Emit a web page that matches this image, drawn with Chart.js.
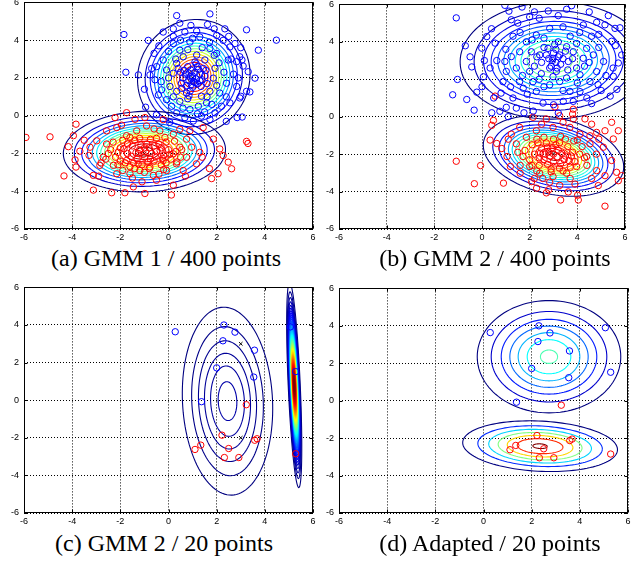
<!DOCTYPE html>
<html>
<head>
<meta charset="utf-8">
<script src="https://cdn.jsdelivr.net/npm/chart.js@4.4.1/dist/chart.umd.min.js"></script>
<style>
  body { margin: 0; width: 644px; height: 565px; overflow: hidden; background: #fff; position: relative; }
  .panel { position: absolute; }
  .cap { position: absolute; width: 320px; text-align: center; font: 24px 'Liberation Serif', 'Times New Roman', serif; line-height: 24px; color: #000; white-space: nowrap; }
</style>
</head>
<body>
<div class="panel" style="left:2px;top:-8px;width:319px;height:251px"><canvas id="pa"></canvas></div>
<div class="panel" style="left:317px;top:-6px;width:316px;height:249px"><canvas id="pb"></canvas></div>
<div class="panel" style="left:2px;top:277px;width:319px;height:250px"><canvas id="pc"></canvas></div>
<div class="panel" style="left:317px;top:278px;width:319px;height:249px"><canvas id="pd"></canvas></div>
<div class="cap" style="left:6px;top:246px">(a) GMM 1 / 400 points</div>
<div class="cap" style="left:335px;top:246px">(b) GMM 2 / 400 points</div>
<div class="cap" style="left:4px;top:531px">(c) GMM 2 / 20 points</div>
<div class="cap" style="left:330px;top:531px">(d) Adapted / 20 points</div>
<script>
// axis ticks (same for all four panels)
const tickValues = [-6, -4, -2, 0, 2, 4, 6];

// (a) GMM 1 / 400 points
const blueA = [
  [0.34,5.3],[1.72,5.39],[0.47,4.9],[0.93,4.78],[1.62,4.83],[2.34,4.6],[3.24,4.55],[-0.22,4.43],[0.2,4.2],[-0.84,3.99],
  [1.17,4.48],[0.68,4.43],[1.3,4.17],[2.0,4.25],[2.27,3.99],[2.76,3.82],[2.55,3.64],[0.89,3.9],[0.47,3.47],[0.2,3.82],
  [1.72,3.56],[2.0,3.3],[2.96,3.12],[2.83,2.86],[3.1,2.63],[2.48,2.95],[3.31,2.33],[3.73,3.47],[3.59,1.99],
  [-0.49,2.6],[-0.22,2.95],[-0.77,2.16],[-0.56,1.9],[-1.25,2.16],[-0.29,1.37],[-0.08,0.85],[0.13,0.5],[-0.42,1.1],
  [0.34,0.15],[0.68,-0.1],[1.03,-0.28],[1.37,-0.02],[1.72,-0.2],[1.93,0.15],[2.2,0.5],[2.55,0.68],[2.96,0.94],
  [3.24,1.29],[2.83,1.55],[2.41,1.72],[2.13,1.2],[1.58,0.68],[1.24,0.5],[0.89,0.33],[0.47,0.76],[0.06,1.55],
  [0.2,2.25],[-0.08,2.42],[0.34,2.77],[0.61,3.12],[1.17,3.21],[1.51,2.95],[1.93,2.51],[1.86,1.99],[1.72,1.29],
  [1.37,1.03],[0.75,1.2],[0.54,1.72],[0.34,1.29],
  [0.7,2.2],[0.85,1.85],[1.0,2.1],[1.15,1.95],[1.3,2.2],[0.95,2.4],[1.2,1.7],[0.75,1.6],[1.05,1.8],[0.9,2.05],
  [1.25,2.45],[1.4,1.9],[0.6,2.0],[1.1,2.3],[0.8,2.6],[1.35,1.55],[1.0,1.5],[0.65,2.4],[1.5,2.1],[1.2,2.6],
  [0.9,1.3],[1.45,2.5],[1.0,2.0],[1.1,1.75],[0.85,2.25],[1.3,1.85],[0.95,1.65],[1.6,1.7],[0.5,2.3],[1.15,2.75],
  [-1.85,4.3],[4.48,4.0],[-1.77,2.3],[-0.95,0.45],[2.85,-0.1],[3.06,-0.07],[3.38,1.26],[3.0,1.03],[-0.5,0.05],
  [0.05,-0.35],[2.4,-0.3],[3.05,2.95],[2.7,2.2],[-0.6,3.3],[1.9,4.6],[0.0,3.4],[1.5,0.2],[2.6,3.0],[0.4,2.5],
  [0.3,3.0],[0.0,2.0],[-0.3,1.8],[0.2,1.0],[0.8,0.9],[1.6,1.0],[2.0,1.6],[2.3,2.3],[2.1,2.8],[1.7,3.9],
  [1.0,4.1],[0.5,4.0],[1.4,3.6],[0.8,3.5],[0.2,4.6],[-0.4,3.7],[2.5,4.2],[3.0,3.6],[2.9,2.0],[0.6,0.4],
  [1.2,0.1],[2.4,1.0],[-0.7,2.5],[-1.0,1.4],[1.9,3.2],[1.1,2.85],[0.55,1.45],[1.55,2.4],[0.85,1.05],[1.8,0.6]
];
const redA = [
  [-5.92,-1.15],[-4.92,-1.12],[-4.34,-3.19],[-4.16,-1.64],[-3.95,-1.06],[-3.84,-0.45],[-3.68,-1.88],[-3.88,-2.34],
  [-3.84,-2.72],[-3.26,-1.67],[-3.12,-3.94],[-3.12,-3.16],[-2.85,-2.63],[-2.36,-4.08],[-1.81,-4.08],[-1.46,-3.77],
  [-0.98,-4.12],[-0.5,-3.42],[0.12,-4.2],[0.2,-3.68],[0.61,-2.9],[1.16,-2.55],[1.3,-1.94],[1.86,-1.24],[2.13,-1.76],
  [2.27,-2.11],[2.48,-2.46],[2.62,-2.81],[2.06,-3.07],[1.79,-3.33],[3.24,-1.36],[3.3,-1.47],[-1.74,0.16],[-2.22,-0.1],
  [-1.39,-0.19],[-0.98,-0.1],[-0.22,-0.21],[0.47,-0.72],[0.89,-0.8],[1.44,-0.63],[-2.15,-0.63],[-2.57,-0.8],
  [-2.98,-1.33],[-2.71,-2.2],[-2.29,-2.63],[-2.15,-3.07],[-1.6,-3.07],[-1.19,-2.9],[-0.63,-3.16],[-0.08,-2.9],
  [0.33,-2.55],[0.75,-2.2],[0.96,-1.67],[0.75,-1.24],[0.2,-0.98],[-0.36,-0.8],[-0.91,-0.54],[-1.32,-0.8],
  [-1.74,-1.06],[-2.57,-1.5],[-2.09,-1.94],[-1.74,-2.37],[-1.26,-2.55],[-0.77,-2.72],[-0.22,-2.37],[0.2,-2.02],[0.47,-1.67],
  [-1.5,-1.6],[-1.2,-1.8],[-0.8,-1.7],[-0.5,-1.9],[-0.2,-2.1],[-1.0,-2.2],[-1.3,-2.3],[-0.6,-2.4],[-1.7,-2.0],
  [-0.9,-1.5],[-0.4,-1.5],[0.0,-1.8],[-1.1,-2.6],[-0.7,-2.0],[-1.4,-1.3],[-2.0,-1.7],[-0.3,-2.6],[-1.8,-2.5],
  [0.1,-2.3],[-1.2,-1.2],[-0.5,-1.2],[-0.95,-1.9],[-1.6,-2.7],[-2.2,-2.2],[-0.1,-1.4],[0.3,-1.9],[-1.9,-1.3],
  [-0.8,-2.8],[-2.4,-1.8],[-1.05,-2.05],[-0.6,-1.6],[-1.35,-1.95],[-0.25,-2.25],[0.5,-2.2],[-2.6,-2.3],[-1.5,-3.3],
  [-0.4,-3.1],[-1.15,-1.55],[-0.75,-2.3],[-1.55,-2.15],[-0.35,-1.85],[-1.0,-1.7],[-0.1,-2.5],[-2.3,-1.4],[-1.9,-2.9],
  [-2.0,-2.4],[-1.7,-1.5],[-1.45,-2.5],[-1.25,-2.0],[-0.85,-2.45],[-0.55,-2.15],[-0.3,-1.7],[0.05,-2.05],[0.35,-2.45],
  [-0.2,-2.85],[-1.0,-3.0],[-1.4,-2.8],[-2.1,-2.6],[-2.5,-2.0],[-1.85,-1.75],[-1.6,-1.15],[-0.75,-1.25],[-0.15,-1.15],
  [0.25,-1.35],[0.55,-1.8],[-2.8,-2.5],[-3.3,-2.1],[-3.5,-1.3],[-2.9,-3.2],[-1.1,-3.5],[0.7,-3.2],[1.4,-2.2],
  [1.7,-2.8],[-0.6,-0.7],[-1.95,-0.5]
];
const meansA = [[1.0, 2.0], [-1.0, -2.0]];
const gmmA = [
  { cx: 1.05, cy: 2.05, rx: 2.33, ry: 3.05, angle: -5, n: 15, peak: 15.5, tTop: 1 },
  { cx: -1.0, cy: -1.9, rx: 3.37, ry: 2.13, angle: 3, n: 15, peak: 15.5, tTop: 1 }
];

// (b) GMM 2 / 400 points
const blueB = [
  [-1.08,5.28],[-0.7,3.79],[-1.03,1.99],[-1.23,1.17],[-0.64,0.92],[-0.33,0.35],[-0.43,2.66],[-0.22,1.31],[0.06,2.13],
  [-0.01,3.66],[0.2,4.28],[0.55,3.93],[0.62,3.0],[0.96,5.95],[1.13,5.64],[1.23,5.18],[1.68,5.86],[2.0,5.33],[2.4,5.26],
  [2.78,5.65],[3.55,5.74],[3.76,5.93],[4.25,4.9],[4.81,5.04],[5.16,4.91],[5.58,4.72],[5.79,4.75],[5.44,4.03],[5.86,3.3],
  [5.72,2.87],[5.51,2.16],[5.66,1.46],[5.38,1.1],[4.87,1.71],[4.4,1.0],[4.11,1.34],[3.83,0.82],[3.41,0.82],[3.0,0.64],
  [2.56,0.73],[2.15,0.3],[1.76,0.21],[1.44,0.46],[1.02,0.5],[0.75,0.29],[0.41,0.21],[0.49,1.0],[1.3,1.0],[1.73,1.52],
  [2.14,1.87],[2.28,1.35],[2.84,1.7],[3.26,1.88],[3.69,1.35],[4.11,2.24],[4.53,1.88],[4.81,2.41],[5.1,2.95],[4.67,3.3],
  [4.39,3.65],[3.97,3.91],[3.55,3.74],[3.2,4.0],[2.84,4.72],[2.28,4.36],[1.86,4.0],[1.58,3.47],[1.23,3.21],[1.02,2.42],
  [1.44,2.6],[1.86,2.95],[2.07,3.47],[2.42,3.3],[2.77,3.65],[2.98,3.12],[3.26,3.3],[2.84,2.6],[3.12,2.42],[3.62,2.95],
  [3.83,3.47],[4.25,3.12],[3.97,2.6],[3.55,2.07],[2.98,2.14],[2.49,2.3],[2.0,2.42],[1.58,1.87],[0.88,1.87],[0.8,1.26],
  [0.34,2.6],[0.96,2.95],
  [2.8,3.1],[3.1,2.9],[3.2,3.2],[2.9,2.7],[3.0,3.4],[3.3,2.8],[2.7,3.3],[3.1,3.6],[2.5,2.9],[3.4,3.1],[2.95,3.0],
  [3.15,2.6],[2.6,3.7],[3.5,3.5],[2.3,3.2],[3.05,3.85],[3.7,4.3],[2.1,4.1],[4.6,4.3],[4.9,3.7],[1.3,4.3],[5.2,2.2],
  [1.9,1.2],[4.3,2.7],[1.2,1.6],[3.4,1.4],[4.0,1.8],
  [0.1,3.0],[0.4,4.7],[1.5,5.0],[2.2,5.6],[3.2,5.4],[4.5,5.6],[5.3,5.4],[5.6,3.8],[5.0,1.4],[4.6,0.7],
  [3.2,0.2],[1.1,0.0],[0.0,1.6],[-0.5,3.2],[1.7,2.2],[2.4,2.0],[3.6,2.5],[4.5,2.9],[4.1,4.5],[3.4,4.8],
  [2.6,4.2],[1.6,4.5],[2.2,2.7],[3.8,3.1],[2.6,1.6],[1.0,3.6],[4.9,4.4],[5.5,2.6]
];
const redB = [
  [-1.08,-2.38],[-0.32,-3.58],[-0.06,-2.61],[0.9,-3.55],[0.55,1.1],[3.06,0.52],[3.83,0.4],[3.8,0.14],[0.48,-0.2],
  [0.41,-0.46],[0.34,-1.25],[0.62,-1.43],[0.83,-1.7],[1.05,-2.13],[1.19,-2.66],[1.6,-3.02],[2.08,-3.47],[2.29,-3.82],
  [2.7,-4.07],[3.3,-4.45],[3.62,-4.02],[4.01,-4.2],[4.04,-4.45],[5.16,-4.78],[4.88,-3.68],[5.16,-3.15],[5.65,-2.97],
  [5.86,-3.15],[5.72,-3.42],[5.44,-2.34],[5.09,-1.63],[5.51,-1.19],[5.72,-0.75],[5.44,-0.3],[5.16,-0.75],[4.81,-0.84],
  [4.53,-1.02],[4.32,-0.12],[2.14,-0.03],[2.7,-0.12],[3.26,0.05],[3.83,-0.12],[1.58,-0.57],[1.23,-0.93],[1.44,-1.45],
  [1.72,-2.13],[2.0,-2.66],[2.42,-3.02],[2.98,-3.2],[3.55,-3.02],[3.97,-2.66],[4.39,-2.13],[4.53,-1.45],[4.11,-0.93],
  [3.69,-0.57],[2.98,-0.57],[2.28,-0.75],[1.86,-1.1],[4.81,-2.88],[3.26,-3.67],[2.84,-3.5],
  [2.5,-1.7],[2.8,-1.9],[3.2,-1.8],[3.5,-2.1],[2.6,-2.3],[3.0,-2.4],[3.3,-2.5],[2.2,-2.0],[3.8,-1.9],[2.7,-1.4],
  [3.1,-1.5],[3.6,-1.6],[2.4,-2.6],[3.9,-2.4],[2.9,-2.8],[3.4,-2.9],[2.1,-1.5],[2.3,-2.9],[3.7,-2.7],[4.1,-2.0],
  [2.0,-2.3],[3.0,-1.2],[2.6,-1.1],[3.5,-1.2],[4.2,-1.6],[2.85,-2.1],[3.15,-2.15],[2.45,-1.95],[3.65,-2.35],[3.0,-2.0],
  [2.75,-2.55],[3.35,-1.95],[2.35,-1.4],[3.85,-1.3],[2.95,-1.65],[3.25,-2.75],[4.4,-2.6],[1.8,-1.8],[2.55,-3.3],[4.6,-3.3],
  [2.3,-1.2],[2.65,-2.0],[3.45,-2.3],[3.25,-1.4],[2.1,-2.6],[2.9,-2.95],[3.75,-2.1],[4.3,-2.2],[1.5,-1.9],[2.2,-3.3],
  [3.7,-3.3],[4.8,-2.0],[4.9,-1.2],[1.1,-1.2],[2.5,-0.4],[3.4,-0.3],[4.6,-0.4],[2.8,-3.9],[3.9,-3.6],[1.6,-2.6],
  [2.4,-2.2],[3.3,-1.05],[4.0,-1.25],[2.75,-1.65]
];
const meansB = [[3.0, 3.0], [3.0, -2.0]];
const gmmB = [
  { cx: 3.0, cy: 3.0, rx: 3.92, ry: 3.13, angle: 3, n: 11, peak: 12.2, tTop: 0.5 },
  { cx: 3.0, cy: -2.1, rx: 3.05, ry: 2.0, angle: -20, n: 15, peak: 15.5, tTop: 0.95 }
];

// (c) and (d): the same 20 points
const blue20 = [
  [0.28,3.64],[2.3,4.0],[2.76,3.62],[2.26,3.16],[3.57,2.66],[2.0,1.72],[3.54,1.23],[1.37,-0.08],[5.06,3.9],[5.28,1.52]
];
const red20 = [
  [3.23,-0.24],[2.22,-1.86],[3.58,-2.13],[3.68,-2.05],[1.34,-2.39],[1.1,-2.62],[2.5,-2.57],[2.32,-3.05],[2.92,-3.05],[5.28,-2.85]
];
const meansC = [[3.0, 3.0], [3.0, -2.0]];
const gmmC = [
  { cx: 2.45, cy: -0.05, rx: 1.87, ry: 5.0, angle: 2, n: 6, peak: 6.5, tTop: 0.04 },
  { cx: 5.22, cy: 0.8, rx: 0.25, ry: 5.45, angle: 2, n: 60, peak: 61, tTop: 1 }
];
const gmmD = [
  { cx: 2.72, cy: 2.35, rx: 2.98, ry: 3.0, angle: 0, n: 7, peak: 7.2, tTop: 0.45 },
  { cx: 2.35, cy: -2.43, rx: 3.22, ry: 1.34, angle: -4, n: 7, peak: 7.12, tTop: 1 }
];

const contours = { pa: gmmA, pb: gmmB, pc: gmmC, pd: gmmD };

// matlab jet colormap
function jet(t) {
  const c = v => Math.round(255 * Math.min(1, Math.max(0, v)));
  return 'rgb(' + c(1.5 - Math.abs(4 * t - 3)) + ',' + c(1.5 - Math.abs(4 * t - 2)) + ',' + c(1.5 - Math.abs(4 * t - 1)) + ')';
}

const gmmPlugin = {
  id: 'gmm',
  beforeDatasetsDraw(chart) {
    const { ctx, chartArea: a, scales: { x, y } } = chart;
    const comps = contours[chart.canvas.id] || [];
    ctx.save();
    ctx.beginPath();
    ctx.rect(a.left, a.top, a.width, a.height);
    ctx.clip();
    ctx.lineWidth = 1.1;
    comps.forEach(c => {
      const rot = c.angle * Math.PI / 180, cs = Math.cos(rot), sn = Math.sin(rot);
      for (let k = 1; k <= c.n; k++) {
        // gaussian contour at level k (of peak): radius relative to the outer one
        const s = Math.sqrt(Math.log(c.peak / k) / Math.log(c.peak));
        ctx.strokeStyle = jet(c.n > 1 ? c.tTop * (k - 1) / (c.n - 1) : 0);
        ctx.beginPath();
        for (let i = 0; i <= 120; i++) {
          const u = i / 120 * 2 * Math.PI;
          const ex = s * c.rx * Math.cos(u), ey = s * c.ry * Math.sin(u);
          const px = x.getPixelForValue(c.cx + ex * cs - ey * sn);
          const py = y.getPixelForValue(c.cy + ex * sn + ey * cs);
          if (i === 0) ctx.moveTo(px, py); else ctx.lineTo(px, py);
        }
        ctx.stroke();
      }
    });
    ctx.restore();
  },
  afterDraw(chart) {
    const { ctx, chartArea: a, scales: { x, y } } = chart;
    ctx.save();
    ctx.strokeStyle = '#000';
    ctx.lineWidth = 1;
    const l = Math.round(a.left) + 0.5, r = Math.round(a.right) - 0.5;
    const t = Math.round(a.top) + 0.5, b = Math.round(a.bottom) - 0.5;
    ctx.strokeRect(l, t, r - l, b - t);
    ctx.beginPath();
    tickValues.forEach(v => {
      const px = Math.round(x.getPixelForValue(v)) + 0.5;
      ctx.moveTo(px, b); ctx.lineTo(px, b - 3);
      ctx.moveTo(px, t); ctx.lineTo(px, t + 3);
      const py = Math.round(y.getPixelForValue(v)) + 0.5;
      ctx.moveTo(l, py); ctx.lineTo(l + 3, py);
      ctx.moveTo(r, py); ctx.lineTo(r - 3, py);
    });
    ctx.stroke();
    ctx.restore();
  }
};

const tickFont = { family: "'Liberation Sans', Arial, sans-serif", size: 9 };
const pts = arr => arr.map(p => ({ x: p[0], y: p[1] }));

function circles(arr, color) {
  return {
    data: pts(arr), pointStyle: 'circle', pointRadius: 3.2, borderWidth: 1,
    borderColor: color, backgroundColor: 'rgba(0,0,0,0)'
  };
}

function makePanel(id, blue, red, means) {
  const datasets = [circles(blue, '#0000ff'), circles(red, '#ff0000')];
  if (means) {
    datasets.push({
      data: pts(means), pointStyle: 'crossRot', pointRadius: 2.5, borderWidth: 1,
      borderColor: '#000', backgroundColor: '#000'
    });
  }
  return new Chart(document.getElementById(id), {
    type: 'scatter',
    data: { datasets },
    plugins: [gmmPlugin],
    options: {
      responsive: true,
      maintainAspectRatio: false,
      animation: false,
      events: [],
      layout: { padding: { top: 8, right: 8, left: 0, bottom: 0 } },
      plugins: { legend: { display: false }, tooltip: { enabled: false } },
      scales: {
        x: {
          type: 'linear', min: -6, max: 6,
          ticks: { stepSize: 2, font: tickFont, color: '#000', padding: 3, maxRotation: 0 },
          grid: { color: '#000', lineWidth: 1, drawTicks: false },
          border: { display: false, dash: [1, 2] },
          afterFit(s) { s.height = 14; }
        },
        y: {
          type: 'linear', min: -6, max: 6,
          ticks: { stepSize: 2, font: tickFont, color: '#000', padding: 5 },
          grid: { color: '#000', lineWidth: 1, drawTicks: false },
          border: { display: false, dash: [1, 2] },
          afterFit(s) { s.width = 22; }
        }
      }
    }
  });
}

makePanel('pa', blueA, redA, meansA);
makePanel('pb', blueB, redB, meansB);
makePanel('pc', blue20, red20, meansC);
makePanel('pd', blue20, red20, null);
</script>
</body>
</html>
